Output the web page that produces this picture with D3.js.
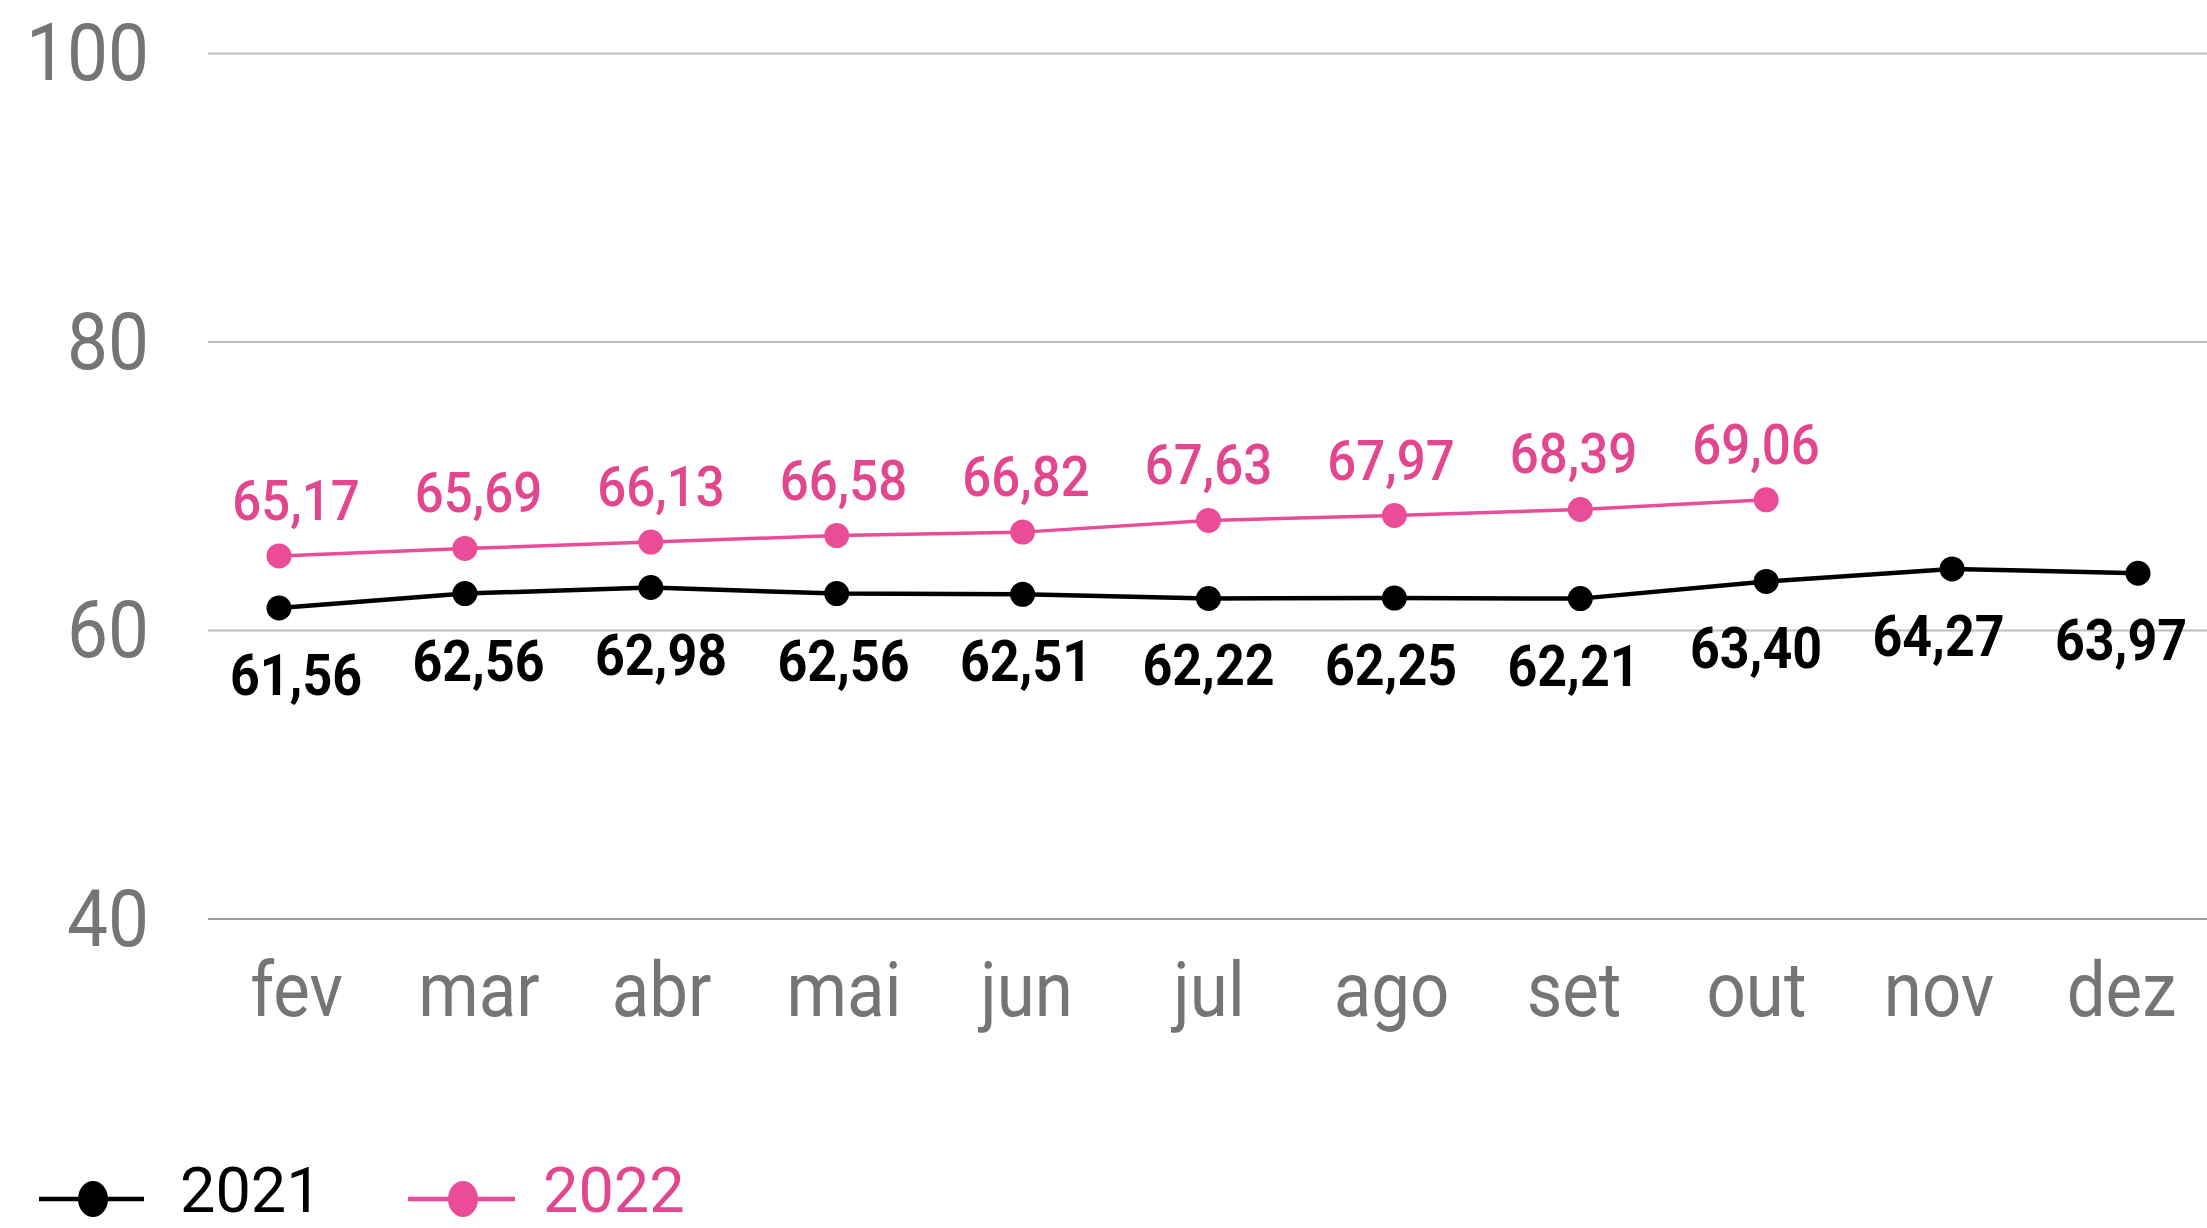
<!DOCTYPE html>
<html>
<head>
<meta charset="utf-8">
<script src="https://cdn.jsdelivr.net/npm/d3@7"></script>
<style>
  html, body { margin: 0; padding: 0; background: #fff; }
  svg { display: block; font-family: Roboto, "Noto Sans", sans-serif; }
</style>
</head>
<body>
<svg id="chart" width="2207" height="1228"></svg>
<script>
const months = ["fev", "mar", "abr", "mai", "jun", "jul", "ago", "set", "out", "nov", "dez"];
const values2021 = [61.56, 62.56, 62.98, 62.56, 62.51, 62.22, 62.25, 62.21, 63.40, 64.27, 63.97];
const values2022 = [65.17, 65.69, 66.13, 66.58, 66.82, 67.63, 67.97, 68.39, 69.06];
const yTicks = [40, 60, 80, 100];
const seriesNames = ["2021", "2022"];

const W = 2207, H = 1228;
const colBlack = "#000000";
const colPink = "#ea4c98";
const colPinkText = "#e2468f";
const colAxis = "#757575";
const stretch = 1.09;

const svg = d3.select("#chart");

const x = d3.scalePoint().domain(months).range([279, 2138]);
const xText = d3.scalePoint().domain(months).range([296, 2121]);
const y = d3.scaleLinear().domain([40, 100]).range([919, 53.5]);

// gridlines
svg.append("g").selectAll("line").data(yTicks).join("line")
  .attr("x1", 208).attr("x2", W)
  .attr("y1", d => y(d)).attr("y2", d => y(d))
  .attr("stroke", d => d === 40 ? "#9e9e9e" : "#bdbdbd")
  .attr("stroke-width", 2);

// y axis labels
const yAxis = d3.axisLeft(y).tickValues(yTicks).tickSize(0).tickPadding(0);
const gy = svg.append("g").attr("transform", "translate(149,0)").call(yAxis);
gy.select(".domain").remove();
gy.selectAll("text")
  .attr("font-family", "Roboto")
  .attr("font-size", 73)
  .attr("fill", colAxis)
  .attr("dy", "0.33em")
  .attr("transform", `scale(1,${stretch})`);

// x axis labels
const xAxis = d3.axisBottom(xText).tickSize(0).tickPadding(0);
const gx = svg.append("g").attr("transform", "translate(0,1016)").call(xAxis);
gx.select(".domain").remove();
gx.selectAll("text")
  .attr("font-family", "Roboto")
  .attr("font-size", 69)
  .attr("fill", colAxis)
  .attr("y", 0)
  .attr("dy", 0)
  .attr("transform", `scale(1,${stretch})`);

const line = d3.line().x(d => x(d.m)).y(d => y(d.v));
const d2021 = months.map((m, i) => ({ m, v: values2021[i] }));
const d2022 = values2022.map((v, i) => ({ m: months[i], v }));

// 2021 series
svg.append("path").datum(d2021).attr("d", line)
  .attr("fill", "none").attr("stroke", colBlack).attr("stroke-width", 4.5);
svg.append("g").selectAll("circle").data(d2021).join("circle")
  .attr("cx", d => x(d.m)).attr("cy", d => y(d.v)).attr("r", 12.5).attr("fill", colBlack);

// 2022 series
svg.append("path").datum(d2022).attr("d", line)
  .attr("fill", "none").attr("stroke", colPink).attr("stroke-width", 3.5);
svg.append("g").selectAll("circle").data(d2022).join("circle")
  .attr("cx", d => x(d.m)).attr("cy", d => y(d.v)).attr("r", 12.5).attr("fill", colPink);

const fmt = v => v.toFixed(2).replace(".", ",");

// labels
svg.append("g").selectAll("text").data(d2021).join("text")
  .attr("transform", d => `translate(${xText(d.m)},${y(d.v) + 87}) scale(1,${stretch})`)
  .attr("text-anchor", "middle")
  .attr("font-family", "Roboto").attr("font-weight", "bold")
  .attr("font-size", 52).attr("fill", colBlack)
  .text(d => fmt(d.v));

svg.append("g").selectAll("text").data(d2022).join("text")
  .attr("transform", d => `translate(${xText(d.m)},${y(d.v) - 36}) scale(1,${stretch})`)
  .attr("text-anchor", "middle")
  .attr("font-family", "Roboto").attr("font-weight", 500)
  .attr("font-size", 51).attr("fill", colPinkText)
  .text(d => fmt(d.v));

// legend
const legend = [
  { name: seriesNames[0], color: colBlack, text: colBlack, x0: 39, x1: 144, cx: 93, tx: 180 },
  { name: seriesNames[1], color: colPink, text: colPinkText, x0: 408, x1: 515, cx: 463, tx: 543 }
];
const lg = svg.append("g");
legend.forEach(l => {
  lg.append("line").attr("x1", l.x0).attr("x2", l.x1).attr("y1", 1199).attr("y2", 1199)
    .attr("stroke", l.color).attr("stroke-width", 4.5);
  lg.append("ellipse").attr("cx", l.cx).attr("cy", 1199).attr("rx", 15).attr("ry", 18).attr("fill", l.color);
  lg.append("text").attr("x", l.tx).attr("y", 1212)
    .attr("font-family", "Roboto").attr("font-size", 63).attr("fill", l.text)
    .text(l.name);
});
</script>
</body>
</html>
